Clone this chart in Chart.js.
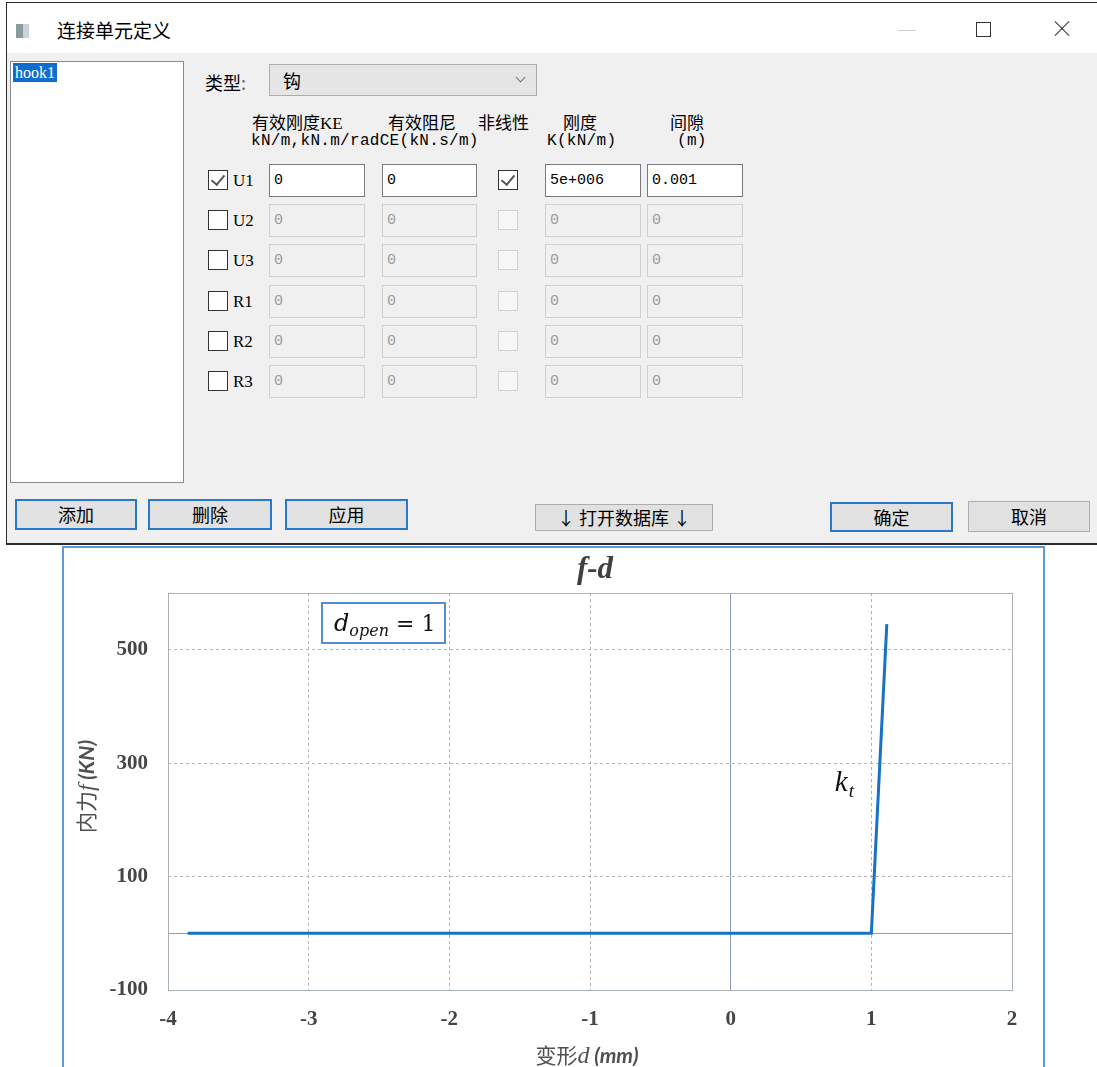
<!DOCTYPE html>
<html>
<head>
<meta charset="utf-8">
<script src="https://cdn.jsdelivr.net/npm/chart.js"></script>
<style>
  html, body { margin: 0; padding: 0; background: #fff; }
  body { width: 1097px; height: 1067px; position: relative; overflow: hidden;
         font-family: "Noto Sans CJK SC", sans-serif; color: #000; }
  .abs { position: absolute; }
  .frame { left: 6px; top: 2px; width: 1091px; height: 540px; background: #f0f0f0;
           border-top: 1px solid #2b2b2b; border-left: 1px solid #2b2b2b; border-bottom: 2px solid #2b2b2b; }
  .titlebar { left: 7px; top: 3px; width: 1090px; height: 50px; background: #fff; }
  .cjk { font-family: "Noto Sans CJK SC", sans-serif; white-space: nowrap; }
  .mono { font-family: "Liberation Mono", monospace; white-space: nowrap; }
  .hdr { font-size: 17px; line-height: 20px; }
  .sub { font-size: 16px; line-height: 18px; letter-spacing: 0.3px; }
  .box { box-sizing: border-box; }
  .cb { width: 20px; height: 20px; box-sizing: border-box; background: #fff; border: 1px solid #333; }
  .cb.off { border-color: #d2d2d2; background: #f7f7f7; }
  .cb .tick { position: absolute; left: 5px; top: 1px; width: 6px; height: 11px;
              border-right: 2px solid #555; border-bottom: 2px solid #555; transform: rotate(40deg); }
  .inp { height: 33px; box-sizing: border-box; border: 1px solid #7a7a7a; background: #fff;
         font-family: "Liberation Mono", monospace; font-size: 15px; line-height: 31px; padding-left: 4px; }
  .inp.off { border-color: #d0d0d0; background: #f0f0f0; color: #9b9b9b; }
  .rowlab { font-family: "Liberation Serif", serif; font-size: 17px; line-height: 20px; }
  .btn { box-sizing: border-box; background: #e1e1e1; border: 1px solid #adadad; text-align: center;
         font-size: 18px; }
  .btn.def { border: 2px solid #2a78cc; }
  #wrap { left: 62px; top: 546px; width: 983px; height: 521px; box-sizing: border-box;
          border: 2px solid #5b9bd5; border-bottom: none; background: #fff; }
</style>
</head>
<body>

<!-- dialog -->
<div class="abs frame"></div>
<div class="abs titlebar"></div>
<div class="abs" style="left:16px;top:24px;width:13px;height:14px;background:#8a9aa0;"></div>
<div class="abs" style="left:23px;top:24px;width:6px;height:14px;background:#c9d3d8;"></div>
<div class="abs cjk" style="left:57px;top:17px;font-size:19px;line-height:26px;">连接单元定义</div>
<div class="abs" style="left:898px;top:30px;width:18px;height:1px;background:#cfcfcf;"></div>
<div class="abs" style="left:976px;top:22px;width:13px;height:13px;border:1px solid #333;"></div>
<div class="abs" style="left:1052px;top:28px;width:20px;height:1px;background:#333;transform:rotate(45deg);"></div>
<div class="abs" style="left:1052px;top:28px;width:20px;height:1px;background:#333;transform:rotate(-45deg);"></div>

<div class="abs box" style="left:10px;top:61px;width:174px;height:422px;background:#fff;border:1px solid #8a8a8a;"></div>
<div class="abs" style="left:13px;top:63px;height:19px;padding:0 2px;background:#0f6cd0;color:#fff;font-size:16px;line-height:19px;font-family:'Liberation Serif',serif;white-space:nowrap;">hook1</div>

<div class="abs cjk" style="left:205px;top:70px;font-size:18px;line-height:24px;">类型<span style="color:#666">:</span></div>
<div class="abs box" style="left:269px;top:64px;width:268px;height:32px;background:#e5e5e5;border:1px solid #adadad;"></div>
<div class="abs cjk" style="left:283px;top:68px;font-size:18px;line-height:24px;">钩</div>
<div class="abs" style="left:517px;top:74px;width:6px;height:6px;border-right:1px solid #777;border-bottom:1px solid #777;transform:rotate(45deg);"></div>

<div class="abs cjk hdr" style="left:252px;top:112px;">有效刚度<span style="font-family:'Liberation Serif',serif;">KE</span></div>
<div class="abs mono sub" style="left:251px;top:132px;">kN/m,kN.m/radCE(kN.s/m)</div>
<div class="abs cjk hdr" style="left:388px;top:112px;">有效阻尼</div>
<div class="abs cjk hdr" style="left:478px;top:112px;">非线性</div>
<div class="abs cjk hdr" style="left:563px;top:112px;">刚度</div>
<div class="abs mono sub" style="left:547px;top:132px;">K(kN/m)</div>
<div class="abs cjk hdr" style="left:670px;top:112px;">间隙</div>
<div class="abs mono sub" style="left:677px;top:132px;">(m)</div>

<div id="rows"></div>

<div class="abs btn def cjk" style="left:15px;top:499px;width:122px;height:31px;line-height:27px;">添加</div>
<div class="abs btn def cjk" style="left:148px;top:499px;width:124px;height:31px;line-height:27px;">删除</div>
<div class="abs btn def cjk" style="left:285px;top:499px;width:123px;height:31px;line-height:27px;">应用</div>
<div class="abs btn cjk" style="left:535px;top:504px;width:178px;height:27px;line-height:25px;">↓ 打开数据库 ↓</div>
<div class="abs btn def cjk" style="left:830px;top:502px;width:123px;height:30px;line-height:26px;">确定</div>
<div class="abs btn cjk" style="left:968px;top:501px;width:122px;height:31px;line-height:29px;">取消</div>

<!-- chart -->
<div id="wrap" class="abs">
  <canvas id="fd" width="979" height="519"></canvas>
</div>

<script>
// dialog rows
const rowNames = ['U1', 'U2', 'U3', 'R1', 'R2', 'R3'];
const rowCenters = [180, 220, 260, 301, 341, 381];
const u1Values = ['0', '0', '5e+006', '0.001'];

const rowsEl = document.getElementById('rows');
rowNames.forEach((name, i) => {
  const c = rowCenters[i];
  const on = i === 0;
  const vals = on ? u1Values : ['0', '0', '0', '0'];
  let h = '';
  h += `<div class="abs cb" style="left:208px;top:${c - 10}px;">${on ? '<div class="tick"></div>' : ''}</div>`;
  h += `<div class="abs rowlab" style="left:233px;top:${c - 9}px;">${name}</div>`;
  h += `<div class="abs inp${on ? '' : ' off'}" style="left:269px;top:${c - 16}px;width:96px;">${vals[0]}</div>`;
  h += `<div class="abs inp${on ? '' : ' off'}" style="left:382px;top:${c - 16}px;width:95px;">${vals[1]}</div>`;
  h += `<div class="abs cb${on ? '' : ' off'}" style="left:498px;top:${c - 10}px;">${on ? '<div class="tick"></div>' : ''}</div>`;
  h += `<div class="abs inp${on ? '' : ' off'}" style="left:545px;top:${c - 16}px;width:96px;">${vals[2]}</div>`;
  h += `<div class="abs inp${on ? '' : ' off'}" style="left:647px;top:${c - 16}px;width:96px;">${vals[3]}</div>`;
  rowsEl.insertAdjacentHTML('beforeend', h);
});

// chart data: deformation d (mm) vs internal force f (kN)
const dValues = [-3.86, 1.0, 1.11];
const fValues = [0, 0, 545];
const xTickValues = [-4, -3, -2, -1, 0, 1, 2];
const yTickValues = [-100, 0, 100, 300, 500, 600];
const yTickLabels = ['-100', '', '100', '300', '500', ''];
const ktAnchor = [0.74, 251];   // where the k_t note sits, in data units

const points = dValues.map((d, i) => ({ x: d, y: fValues[i] }));

const gridColor = ctx => (ctx.tick && ctx.tick.value === 0) ? '#8aa0b4' : '#b4b4b4';
const gridDash = ctx => (ctx.tick && ctx.tick.value === 0) ? [] : [3, 3];

function drawRuns(ctx, runs, cx, baseY) {
  let total = 0;
  runs.forEach(r => { ctx.font = r.font; r.w = ctx.measureText(r.text).width; total += r.w; });
  let x = cx - total / 2;
  ctx.textAlign = 'left';
  ctx.textBaseline = 'alphabetic';
  runs.forEach(r => {
    ctx.font = r.font;
    ctx.fillStyle = r.color || '#555';
    ctx.fillText(r.text, x, baseY + (r.dy || 0));
    x += r.w;
  });
}

// frame + titles + notes
const decor = {
  id: 'decor',
  beforeDatasetsDraw(chart) {
    const { ctx, chartArea: a } = chart;
    ctx.save();
    ctx.strokeStyle = '#a9b1b8';
    ctx.lineWidth = 1;
    ctx.strokeRect(a.left + 0.5, a.top + 0.5, a.right - a.left, a.bottom - a.top);
    ctx.restore();
  },
  afterDraw(chart) {
    const { ctx, chartArea: a, scales } = chart;
    ctx.save();
    // title
    drawRuns(ctx, [{ text: 'f-d', font: 'bold italic 31px "Liberation Serif"', color: '#404040' }],
      (a.left + a.right) / 2 + 5, 30);
    // x title
    drawRuns(ctx, [
      { text: '变形', font: '21px "Noto Sans CJK SC"', color: '#505050' },
      { text: 'd', font: 'italic 24px "Liberation Serif"', color: '#505050' },
      { text: ' (mm)', font: 'bold italic 21px "Lato"', color: '#505050' }
    ], (a.left + a.right) / 2 - 3, a.bottom + 73);
    // y title
    ctx.translate(a.left - 82, (a.top + a.bottom) / 2 - 5);
    ctx.rotate(-Math.PI / 2);
    drawRuns(ctx, [
      { text: '内力', font: '21px "Noto Sans CJK SC"', color: '#505050' },
      { text: 'f', font: 'italic 24px "Liberation Serif"', color: '#505050' },
      { text: ' (KN)', font: 'bold italic 21px "Lato"', color: '#505050' }
    ], 0, 8);
    ctx.restore();

    // d_open box
    ctx.save();
    const bx = a.left + 154, by = a.top + 10, bw = 123, bh = 40;
    ctx.fillStyle = '#fff';
    ctx.fillRect(bx, by, bw, bh);
    ctx.strokeStyle = '#4f8fd2';
    ctx.lineWidth = 2;
    ctx.strokeRect(bx, by, bw, bh);
    ctx.fillStyle = '#111';
    ctx.textBaseline = 'alphabetic';
    ctx.textAlign = 'left';
    let x = bx + 12;
    ctx.font = 'italic 24px "DejaVu Serif"';
    ctx.fillText('d', x, by + 28);
    x += ctx.measureText('d').width;
    ctx.font = 'italic 16px "DejaVu Serif"';
    ctx.fillText('open', x, by + 33);
    x += ctx.measureText('open').width;
    ctx.font = '22px "DejaVu Serif"';
    ctx.fillText(' = 1', x, by + 28);

    // k_t note
    const kx = scales.x.getPixelForValue(ktAnchor[0]);
    const ky = scales.y.getPixelForValue(ktAnchor[1]);
    ctx.font = 'italic 29px "Liberation Serif"';
    ctx.fillText('k', kx, ky);
    const kw = ctx.measureText('k').width;
    ctx.font = 'italic 19px "Liberation Serif"';
    ctx.fillText('t', kx + kw + 1, ky + 6);
    ctx.restore();
  }
};

new Chart(document.getElementById('fd'), {
  type: 'scatter',
  data: {
    datasets: [{
      data: points,
      showLine: true,
      borderColor: '#1872c4',
      backgroundColor: '#1872c4',
      borderWidth: 3,
      pointRadius: 0,
      tension: 0
    }]
  },
  options: {
    responsive: false,
    animation: false,
    devicePixelRatio: 1,
    layout: { padding: { top: 45, right: 31, left: 0, bottom: 0 } },
    plugins: {
      legend: { display: false },
      title: { display: false },
      tooltip: { enabled: false }
    },
    scales: {
      x: {
        type: 'linear',
        min: -4,
        max: 2,
        afterBuildTicks: scale => { scale.ticks = xTickValues.map(v => ({ value: v })); },
        afterFit: scale => { scale.height = 77; },
        grid: { color: gridColor, lineWidth: 1, drawTicks: false },
        border: { display: false, dash: gridDash },
        ticks: {
          padding: 17,
          color: '#454545',
          font: { family: 'Liberation Serif', size: 21, weight: 'bold' },
          callback: v => String(v)
        }
      },
      y: {
        type: 'linear',
        min: -100,
        max: 600,
        afterBuildTicks: scale => { scale.ticks = yTickValues.map(v => ({ value: v })); },
        afterFit: scale => { scale.width = 104; },
        grid: { color: gridColor, lineWidth: 1, drawTicks: false },
        border: { display: false, dash: gridDash },
        ticks: {
          padding: 20,
          color: '#454545',
          font: { family: 'Liberation Serif', size: 21, weight: 'bold' },
          callback: (v, i) => yTickLabels[i]
        }
      }
    }
  },
  plugins: [decor]
});
</script>
</body>
</html>
